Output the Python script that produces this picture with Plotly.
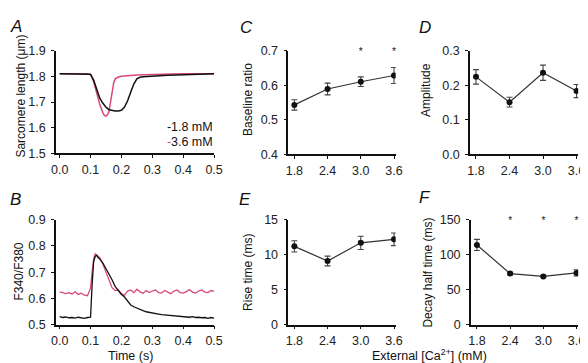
import plotly.graph_objects as go

W, H = 588, 363

# ---- Panel A: sarcomere length traces ----
tA_black = [0.00, 0.05, 0.09, 0.10, 0.11, 0.12, 0.13, 0.14, 0.15, 0.16, 0.17, 0.18, 0.19,
            0.20, 0.21, 0.22, 0.23, 0.24, 0.25, 0.26, 0.27, 0.30, 0.35, 0.40, 0.45, 0.50]
sl_black = [1.810, 1.810, 1.810, 1.808, 1.785, 1.745, 1.715, 1.695, 1.680, 1.670, 1.666, 1.665, 1.665,
            1.668, 1.680, 1.705, 1.738, 1.770, 1.790, 1.796, 1.798, 1.801, 1.804, 1.806, 1.808, 1.810]
tA_pink = [0.00, 0.05, 0.09, 0.10, 0.11, 0.12, 0.13, 0.14, 0.145, 0.15, 0.155, 0.16, 0.165,
           0.17, 0.175, 0.18, 0.19, 0.20, 0.25, 0.30, 0.35, 0.40, 0.50]
sl_pink = [1.810, 1.810, 1.810, 1.806, 1.780, 1.735, 1.690, 1.658, 1.648, 1.645, 1.650, 1.665, 1.700,
           1.745, 1.775, 1.790, 1.797, 1.800, 1.805, 1.807, 1.809, 1.810, 1.810]

# ---- Panel B: F340/F380 traces ----
tB = [0.00, 0.01, 0.02, 0.03, 0.04, 0.05, 0.06, 0.07, 0.08, 0.09, 0.10, 0.105, 0.11, 0.115, 0.12,
      0.125, 0.13, 0.14, 0.15, 0.16, 0.17, 0.18, 0.19, 0.20, 0.21, 0.22, 0.23, 0.24, 0.25, 0.26,
      0.27, 0.28, 0.29, 0.30, 0.31, 0.32, 0.33, 0.34, 0.35, 0.36, 0.37, 0.38, 0.39, 0.40, 0.41,
      0.42, 0.43, 0.44, 0.45, 0.46, 0.47, 0.48, 0.49, 0.50]
ratio_black = [0.530, 0.527, 0.529, 0.526, 0.527, 0.525, 0.528, 0.526, 0.524, 0.527, 0.528, 0.650,
               0.740, 0.760, 0.765, 0.755, 0.750, 0.735, 0.715, 0.690, 0.670, 0.645, 0.630, 0.615,
               0.605, 0.590, 0.575, 0.568, 0.562, 0.557, 0.553, 0.549, 0.546, 0.544, 0.541, 0.540,
               0.538, 0.537, 0.535, 0.534, 0.535, 0.532, 0.533, 0.530, 0.531, 0.528, 0.530, 0.527,
               0.528, 0.526, 0.527, 0.524, 0.527, 0.525]
ratio_pink = [0.625, 0.620, 0.618, 0.622, 0.617, 0.625, 0.615, 0.620, 0.612, 0.610, 0.640, 0.700,
              0.750, 0.770, 0.765, 0.760, 0.755, 0.730, 0.700, 0.670, 0.640, 0.630, 0.632, 0.618,
              0.612, 0.628, 0.632, 0.622, 0.635, 0.625, 0.620, 0.630, 0.622, 0.628, 0.632, 0.622,
              0.620, 0.630, 0.625, 0.618, 0.628, 0.632, 0.622, 0.620, 0.626, 0.634, 0.624, 0.620,
              0.628, 0.632, 0.624, 0.622, 0.630, 0.627]

# ---- Panels C-F: summary data ----
ca = [1.8, 2.4, 3.0, 3.6]
ca_labels = ["1.8", "2.4", "3.0", "3.6"]
baseline = [0.543, 0.589, 0.610, 0.628]
baseline_err = [0.015, 0.017, 0.014, 0.023]
amplitude = [0.224, 0.151, 0.236, 0.183]
amplitude_err = [0.021, 0.014, 0.022, 0.019]
rise = [11.2, 9.1, 11.7, 12.2]
rise_err = [0.8, 0.7, 0.95, 0.9]
decay = [114, 73, 69, 74]
decay_err = [8, 2, 1.5, 4.5]

sig_C_x = [3.0, 3.6]; sig_C_y = [0.693, 0.693]
sig_E_x = [3.6]; sig_E_y = [15.6]
sig_F_x = [2.4, 3.0, 3.6]; sig_F_y = [147, 147, 147]

legend_labels = ["1.8 mM", "3.6 mM"]

BLACK = "#111111"
PINK = "#d9487f"
FONT = "Liberation Sans, Arial, sans-serif"

def px(x):
    return x / W

def py(y):
    return 1 - y / H

fig = go.Figure()

# Traces A
fig.add_trace(go.Scatter(x=tA_pink, y=sl_pink, mode="lines", line=dict(color=PINK, width=1.5),
                         xaxis="x", yaxis="y", showlegend=False))
fig.add_trace(go.Scatter(x=tA_black, y=sl_black, mode="lines", line=dict(color=BLACK, width=1.5),
                         xaxis="x", yaxis="y", showlegend=False))
# Traces B
fig.add_trace(go.Scatter(x=tB, y=ratio_pink, mode="lines", line=dict(color=PINK, width=1.3),
                         xaxis="x2", yaxis="y2", showlegend=False))
fig.add_trace(go.Scatter(x=tB, y=ratio_black, mode="lines", line=dict(color=BLACK, width=1.3),
                         xaxis="x2", yaxis="y2", showlegend=False))

def summary(yvals, errs, xa, ya):
    fig.add_trace(go.Scatter(
        x=ca, y=yvals, mode="lines+markers",
        line=dict(color="#333333", width=1.2),
        marker=dict(color=BLACK, size=6),
        error_y=dict(type="data", array=errs, visible=True, color="#444444", thickness=1.1, width=3),
        xaxis=xa, yaxis=ya, showlegend=False))

summary(baseline, baseline_err, "x3", "y3")
summary(amplitude, amplitude_err, "x4", "y4")
summary(rise, rise_err, "x5", "y5")
summary(decay, decay_err, "x6", "y6")

def marks(xs, ys, txt, xa, ya, size):
    fig.add_trace(go.Scatter(x=xs, y=ys, mode="text", text=[txt] * len(xs),
                             textfont=dict(size=size, color=BLACK, family=FONT),
                             xaxis=xa, yaxis=ya, showlegend=False, cliponaxis=False))

marks(sig_C_x, sig_C_y, "*", "x3", "y3", 10)
marks(sig_E_x, sig_E_y, "#", "x5", "y5", 11)
marks(sig_F_x, sig_F_y, "*", "x6", "y6", 10)

tickfont = dict(size=12.5, color="#222222", family=FONT)

def xax(domain, rng, tickvals, ticktext, anchor):
    return dict(domain=[px(domain[0]), px(domain[1])], range=rng, tickvals=tickvals, ticktext=ticktext,
                showline=True, linecolor=BLACK, linewidth=1.5, ticks="outside", ticklen=3,
                tickcolor=BLACK, tickfont=tickfont, showgrid=False, zeroline=False, anchor=anchor,
                fixedrange=True, ticklabelstandoff=1)

def yax(domain, rng, dtick, fmt, anchor):
    return dict(domain=[py(domain[1]), py(domain[0])], range=rng, dtick=dtick, tickformat=fmt,
                tick0=rng[0], showline=True, linecolor=BLACK, linewidth=1.5, ticks="outside",
                ticklen=3, tickcolor=BLACK, tickfont=tickfont, showgrid=False, zeroline=False,
                anchor=anchor, fixedrange=True, ticklabelstandoff=3)

t_ticks = [0.0, 0.1, 0.2, 0.3, 0.4, 0.5]
t_labels = ["0.0", "0.1", "0.2", "0.3", "0.4", "0.5"]
crange = [1.69, 3.63]

fig.update_layout(
    width=W, height=H, margin=dict(l=0, r=0, t=0, b=0),
    paper_bgcolor="white", plot_bgcolor="white",
    font=dict(family=FONT, color="#222222"),
    xaxis=xax((44, 206), [-0.012, 0.5], t_ticks, t_labels, "y"),
    yaxis=yax((37, 144), [1.5, 1.9], 0.1, ".1f", "x"),
    xaxis2=xax((44, 206), [-0.012, 0.5], t_ticks, t_labels, "y2"),
    yaxis2=yax((213, 322), [0.5, 0.9], 0.1, ".1f", "x2"),
    xaxis3=xax((282, 392), crange, ca, ca_labels, "y3"),
    yaxis3=yax((37, 145), [0.4, 0.7], 0.1, ".1f", "x3"),
    xaxis4=xax((468, 579), crange, ca, ca_labels, "y4"),
    yaxis4=yax((37, 145), [0.0, 0.3], 0.1, ".1f", "x4"),
    xaxis5=xax((282, 392), crange, ca, ca_labels, "y5"),
    yaxis5=yax((213, 322), [0, 15], 5, "d", "x5"),
    xaxis6=xax((469, 579), crange, ca, ca_labels, "y6"),
    yaxis6=yax((213, 322), [0, 150], 50, "d", "x6"),
)

ann = []
SHIFT = -5
def label(text, x, y, size=12, angle=0, italic=False, xanchor="center", color="#111111"):
    font = dict(size=size, color=color, family=FONT)
    if italic:
        font["style"] = "italic"
    ann.append(dict(text=text, x=px(x + SHIFT), y=py(y), xref="paper", yref="paper", showarrow=False,
                    textangle=angle, xanchor=xanchor, yanchor="middle", font=font))

# panel letters
label("A", 8, 12, 17, italic=True)
label("B", 8, 192, 17, italic=True)
label("C", 244, 13, 17, italic=True)
label("D", 427, 13, 17, italic=True)
label("E", 243, 192, 17, italic=True)
label("F", 427, 190, 17, italic=True)

# axis titles
label("Sarcomere length (μm)", 13, 84, 12, angle=-90)
label("F340/F380", 11, 267, 12, angle=-90)
label("Baseline ratio", 245, 88, 12, angle=-90)
label("Amplitude", 428, 78, 12, angle=-90)
label("Rise time (ms)", 245, 268, 12, angle=-90)
label("Decay half time (ms)", 430, 268, 12, angle=-90)
label("Time (s)", 125, 355, 12.5)
label("External [Ca<sup>2+</sup>] (mM)", 432, 354, 12.5)

# legend of panel A
for i, (name, col) in enumerate(zip(legend_labels, [BLACK, PINK])):
    yy = 117 + 15 * i
    label("-", 161, yy, 12.5, xanchor="left", color=col)
    label(name, 165, yy, 12.5, xanchor="left")

fig.update_layout(annotations=ann)
fig.write_html("out.html")
